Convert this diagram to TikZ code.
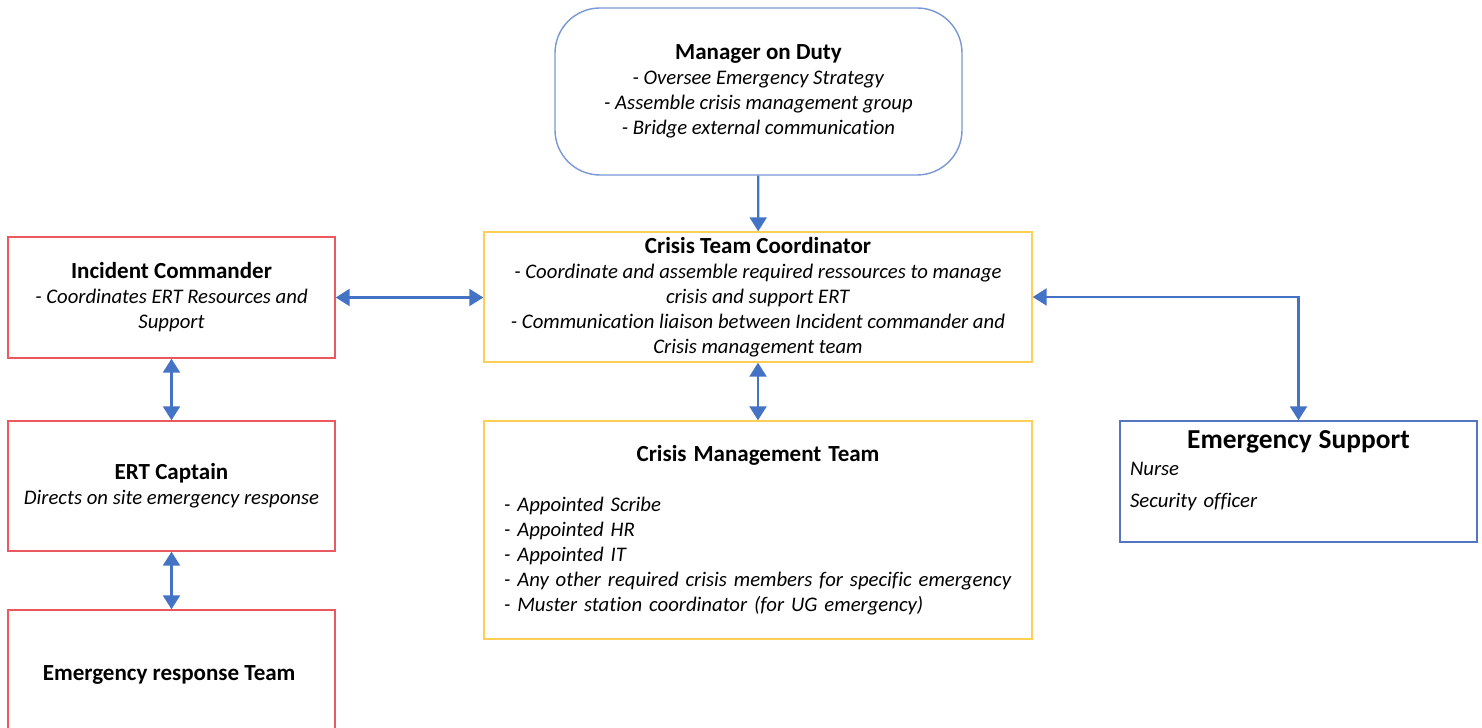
\documentclass[tikz,border=0pt]{standalone}
\usepackage{fontspec}
\setmainfont{Carlito}[Ligatures=NoCommon]
\usetikzlibrary{positioning, arrows.meta}

\definecolor{linkblue}{RGB}{68,114,196}
\definecolor{dutyblue}{RGB}{122,152,212}
\definecolor{supportblue}{RGB}{84,118,192}
\definecolor{teamred}{RGB}{236,88,96}
\definecolor{crisisyellow}{RGB}{255,206,84}

\newcommand{\bodyfont}{\fontsize{11.8}{14.2}\selectfont}
\newcommand{\headfont}{\fontsize{13.1}{15.5}\selectfont\bfseries}

\begin{document}
\begin{tikzpicture}[
    arrow/.style={-{Triangle[length=2.8mm, width=3.4mm]}, line width=1.3pt, linkblue},
    biarrow/.style={{Triangle[length=2.8mm, width=3.4mm]}-{Triangle[length=2.8mm, width=3.4mm]}, line width=1.3pt, linkblue},
    box/.style={draw, line width=0.8pt, fill=white, align=center, inner sep=0pt, font=\bodyfont},
    redbox/.style={box, draw=teamred, minimum width=6.54cm},
    yellowbox/.style={box, draw=crisisyellow, minimum width=10.96cm}
]
    \useasboundingbox (0, 0) rectangle (29.64, -14.56);

    % === Management chain ===
    \node[box, draw=dutyblue, rounded corners=0.9cm, minimum width=8.14cm, minimum height=3.34cm] (duty) at (15.17, -1.83) {
        {\headfont Manager on Duty}\\
        \textit{- Oversee Emergency Strategy}\\
        \textit{- Assemble crisis management group}\\
        \textit{- Bridge external communication}
    };

    \node[yellowbox, minimum height=2.6cm] (coord) at (15.16, -5.94) {
        {\headfont Crisis Team Coordinator}\\
        \textit{- Coordinate and assemble required ressources to manage}\\
        \textit{crisis and support ERT}\\
        \textit{- Communication liaison between Incident commander and}\\
        \textit{Crisis management team}
    };

    \node[yellowbox, minimum height=4.36cm, text width=10.16cm, align=left] (cmt) at (15.16, -10.6) {
        \makebox[\linewidth]{\headfont Crisis Management Team}\\[\baselineskip]
        \textit{- Appointed Scribe}\\
        \textit{- Appointed HR}\\
        \textit{- Appointed IT}\\
        \textit{- Any other required crisis members for specific emergency}\\
        \textit{- Muster station coordinator (for UG emergency)}
    };

    % === Response side ===
    \node[redbox, minimum height=2.42cm] (ic) at (3.43, -5.95) {
        {\headfont Incident Commander}\\
        \textit{- Coordinates ERT Resources and}\\
        \textit{Support}
    };

    \node[redbox, minimum height=2.6cm] (captain) at (3.43, -9.72) {
        {\headfont ERT Captain}\\
        \textit{Directs on site emergency response}
    };

    \node[redbox, minimum height=2.6cm] (ert) at (3.43, -13.5) {
        {\headfont Emergency response Team}
    };

    % === Support ===
    \node[box, draw=supportblue, minimum width=7.14cm, minimum height=2.42cm, text width=6.74cm, align=left] (support) at (25.97, -9.63) {
        \makebox[\linewidth]{\fontsize{15.6}{17}\selectfont\bfseries Emergency Support}\\[0.05cm]
        \textit{Nurse}\\[0.15cm]
        \textit{Security officer}\rule[-0.5cm]{0pt}{0pt}
    };

    % === Links ===
    \draw[arrow] (duty) -- (coord);
    \draw[biarrow] (ic.east) -- (ic.east -| coord.west);
    \draw[biarrow] (coord) -- (cmt);
    \draw[biarrow] (ic) -- (captain);
    \draw[biarrow] (captain) -- (ert);
    \draw[biarrow] (coord.east) -| (support.north);

\end{tikzpicture}
\end{document}
